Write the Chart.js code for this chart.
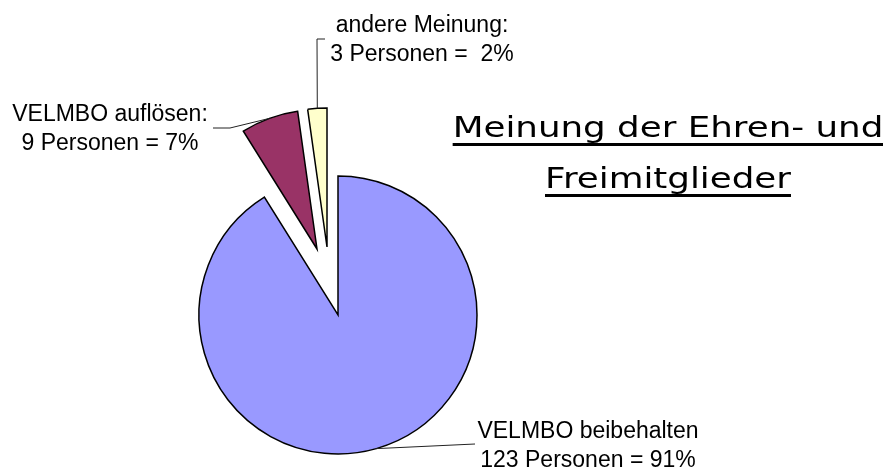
<!DOCTYPE html>
<html>
<head>
<meta charset="utf-8">
<script src="https://cdn.jsdelivr.net/npm/chart.js@4/dist/chart.umd.min.js"></script>
<style>
  body { margin: 0; background: #fff; }
  #wrap { position: relative; width: 883px; height: 468px; }
  #titel {
    position: absolute; left: 448px; top: 102px; width: 440px;
    font-family: "DejaVu Sans", sans-serif; font-size: 29px; line-height: 51px;
    text-align: center; color: #000; white-space: nowrap;
    transform: scaleX(1.23); transform-origin: 220px 0;
    text-decoration: underline; text-decoration-thickness: 3px; text-underline-offset: 6px;
  }
</style>
</head>
<body>
<div id="wrap">
  <canvas id="myChart" width="883" height="468"></canvas>
  <div id="titel">Meinung der Ehren- und<br>Freimitglieder</div>
</div>
<script>
// Daten
var kategorien = ['VELMBO beibehalten', 'VELMBO auflösen:', 'andere Meinung:'];
var personen = [123, 9, 3];
var wertText = ['123 Personen = 91%', '9 Personen = 7%', '3 Personen =  2%'];
var farben = ['#9999FF', '#993366', '#FFFFCC'];

// herausgezogene Stücke (Verschiebung in px)
var explodeX = [0, -21, -11];
var explodeY = [0, -66, -68];

// Beschriftungen: Textmitte, Grundlinie, Knickpunkte der Linie
var beschriftung = [
    { x: 588, y: 438, knick: [[475, 444]] },
    { x: 110, y: 121, knick: [[230, 128], [213, 128]] },
    { x: 422, y: 32, knick: [[317, 39], [325, 39]] }
];

const explodePlugin = {
    id: 'explode',
    beforeDatasetDraw(chart, args) {
        const meta = chart.getDatasetMeta(args.index);
        const area = chart.chartArea;
        const cx = (area.left + area.right) / 2 + meta.controller.offsetX;
        const cy = (area.top + area.bottom) / 2 + meta.controller.offsetY;
        meta.data.forEach(function (arc, i) {
            arc.x = cx + explodeX[i];
            arc.y = cy + explodeY[i];
        });
    }
};

const labelPlugin = {
    id: 'beschriftung',
    afterDatasetsDraw(chart) {
        const ctx = chart.ctx;
        const meta = chart.getDatasetMeta(0);
        ctx.save();
        meta.data.forEach(function (arc, i) {
            const b = beschriftung[i];
            const mid = (arc.startAngle + arc.endAngle) / 2;
            ctx.beginPath();
            ctx.moveTo(arc.x + Math.cos(mid) * arc.outerRadius, arc.y + Math.sin(mid) * arc.outerRadius);
            b.knick.forEach(function (p) { ctx.lineTo(p[0], p[1]); });
            ctx.strokeStyle = '#222';
            ctx.lineWidth = 1;
            ctx.stroke();

            ctx.fillStyle = '#000';
            ctx.font = '23px "Liberation Sans", Arial, sans-serif';
            ctx.textAlign = 'center';
            ctx.textBaseline = 'alphabetic';
            ctx.fillText(kategorien[i], b.x, b.y);
            ctx.fillText(wertText[i], b.x, b.y + 29);
        });
        ctx.restore();
    }
};

const ctx = document.getElementById('myChart').getContext('2d');
const chart = new Chart(ctx, {
    type: 'pie',
    data: {
        labels: kategorien,
        datasets: [{
            data: personen,
            backgroundColor: farben,
            borderColor: '#000',
            borderWidth: 1.5,
            borderJoinStyle: 'miter'
        }]
    },
    options: {
        responsive: false,
        animation: false,
        events: [],
        radius: 139,
        layout: { padding: { left: 0, right: 207, top: 162, bottom: 0 } },
        plugins: {
            legend: { display: false },
            tooltip: { enabled: false }
        }
    },
    plugins: [explodePlugin, labelPlugin]
});
</script>
</body>
</html>
